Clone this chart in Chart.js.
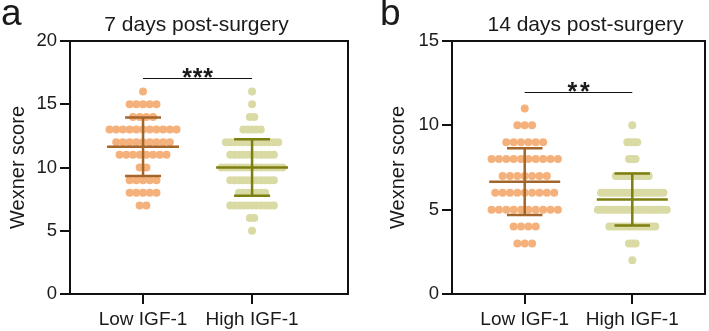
<!DOCTYPE html>
<html>
<head>
    <title>Wexner score</title>
    <script src="https://cdn.jsdelivr.net/npm/chart.js"></script>
    <style>
        body { margin: 0; background: #fff; }
        .wrap { position: relative; width: 709px; height: 331px; }
        canvas { position: absolute; top: 0; }
        #chartA { left: 0; }
        #chartB { left: 354px; }
    </style>
</head>
<body>
    <div class="wrap">
        <canvas id="chartA" width="354" height="331"></canvas>
        <canvas id="chartB" width="355" height="331"></canvas>
    </div>

    <script>
        // Data: how many patients sit at each score
        const categories = ['Low IGF-1', 'High IGF-1'];

        const scores7 = [16, 15, 14, 13, 12, 11, 10, 9, 8, 7, 6, 5];
        const low7Counts = [1, 5, 4, 11, 9, 8, 2, 5, 5, 2, 0, 0];
        const high7Counts = [1, 1, 2, 5, 13, 11, 15, 11, 7, 11, 2, 1];

        const scores14 = [11, 10, 9, 8, 7, 6, 5, 4, 3, 2];
        const low14Counts = [1, 3, 6, 10, 7, 9, 10, 4, 3, 0];
        const high14Counts = [0, 1, 4, 3, 11, 20, 22, 15, 3, 1];

        const yTicks7 = [0, 5, 10, 15, 20];
        const yTicks14 = [0, 5, 10, 15];

        const fontFamily = '"Liberation Sans", Arial, Helvetica, sans-serif';
        const textColor = '#1a1a1a';
        const lowDot = '#F5B17B';
        const lowBar = '#A4652B';
        const highDot = '#D9DAA4';
        const highBar = '#7D7F10';

        // spread the dots of one score row sideways (beeswarm)
        function expand(scores, counts, xIndex, spacing) {
            const pts = [];
            scores.forEach((s, i) => {
                const n = counts[i];
                for (let k = 0; k < n; k++) {
                    pts.push({ x: xIndex + (k - (n - 1) / 2) * spacing, y: s });
                }
            });
            return pts;
        }

        function meanSd(scores, counts) {
            let n = 0, sum = 0;
            scores.forEach((s, i) => { n += counts[i]; sum += s * counts[i]; });
            const mean = sum / n;
            let ss = 0;
            scores.forEach((s, i) => { ss += counts[i] * (s - mean) * (s - mean); });
            return { mean, sd: Math.sqrt(ss / (n - 1)) };
        }

        function errorBar(xIndex, st) {
            const m = st.mean, hi = st.mean + st.sd, lo = st.mean - st.sd;
            return [
                { x: xIndex - 0.33, y: m }, { x: xIndex + 0.33, y: m }, { x: xIndex, y: null },
                { x: xIndex - 0.165, y: hi }, { x: xIndex + 0.165, y: hi }, { x: xIndex, y: null },
                { x: xIndex - 0.165, y: lo }, { x: xIndex + 0.165, y: lo }, { x: xIndex, y: null },
                { x: xIndex, y: lo }, { x: xIndex, y: hi }
            ];
        }

        const decor = {
            id: 'decor',
            afterDraw(chart, args, opts) {
                const { ctx, chartArea: a, scales: { x, y } } = chart;
                ctx.save();
                ctx.strokeStyle = '#111';
                ctx.lineWidth = 2;
                ctx.strokeRect(a.left, a.top, a.right - a.left, a.bottom - a.top);

                // significance bracket
                const x0 = x.getPixelForValue(0), x1 = x.getPixelForValue(1);
                const sy = Math.round(y.getPixelForValue(opts.sigY)) + 0.5;
                ctx.lineWidth = 1;
                ctx.beginPath();
                ctx.moveTo(x0, sy);
                ctx.lineTo(x1, sy);
                ctx.stroke();
                ctx.fillStyle = textColor;
                ctx.textAlign = 'center';
                ctx.textBaseline = 'alphabetic';
                ctx.font = 'bold 25px ' + fontFamily;
                const n = opts.stars.length;
                for (let i = 0; i < n; i++) {
                    const cx = (x0 + x1) / 2 + (i - (n - 1) / 2) * opts.starGap;
                    ctx.fillText(opts.stars[i], cx, sy + 7);
                }

                // title and panel letter
                ctx.font = '21px ' + fontFamily;
                ctx.fillText(opts.title, opts.titleX, 31);
                ctx.textAlign = 'left';
                ctx.font = '37px ' + fontFamily;
                ctx.fillText(opts.letter, opts.letterX, 25);
                ctx.restore();
            }
        };

        function makePanel(id, p) {
            const lowStats = meanSd(p.scores, p.lowCounts);
            const highStats = meanSd(p.scores, p.highCounts);
            return new Chart(document.getElementById(id), {
                type: 'scatter',
                data: {
                    datasets: [
                        { data: errorBar(0, lowStats), showLine: true, spanGaps: false, borderColor: lowBar,
                          borderWidth: 2.5, borderCapStyle: 'butt', pointRadius: 0, order: 0 },
                        { data: errorBar(1, highStats), showLine: true, spanGaps: false, borderColor: highBar,
                          borderWidth: 2.5, borderCapStyle: 'butt', pointRadius: 0, order: 0 },
                        { data: expand(p.scores, p.lowCounts, 0, p.lowGap), backgroundColor: lowDot,
                          borderWidth: 0, pointRadius: 4, order: 1 },
                        { data: expand(p.scores, p.highCounts, 1, p.highGap), backgroundColor: highDot,
                          borderWidth: 0, pointRadius: 4, order: 1 }
                    ]
                },
                options: {
                    responsive: false,
                    animation: false,
                    layout: { padding: { top: 41, right: p.padRight, bottom: 0, left: 0 } },
                    plugins: {
                        legend: { display: false },
                        tooltip: { enabled: false },
                        decor: p.decor
                    },
                    scales: {
                        x: {
                            type: 'linear',
                            min: p.xMin,
                            max: p.xMax,
                            afterBuildTicks: s => { s.ticks = [{ value: 0 }, { value: 1 }]; },
                            afterFit: s => { s.height = 37; },
                            ticks: {
                                callback: v => categories[v],
                                color: textColor,
                                padding: 4,
                                maxRotation: 0,
                                font: { family: fontFamily, size: 19 }
                            },
                            grid: { drawOnChartArea: false, tickLength: 10, color: '#111', lineWidth: 2 },
                            border: { display: true, color: '#111', width: 2 }
                        },
                        y: {
                            min: 0,
                            max: p.yMax,
                            afterBuildTicks: s => { s.ticks = p.yTicks.map(v => ({ value: v })); },
                            afterFit: s => { s.width = p.yWidth; },
                            ticks: {
                                color: textColor,
                                padding: 3,
                                font: { family: fontFamily, size: 18.5 }
                            },
                            grid: { drawOnChartArea: false, tickLength: 10, color: '#111', lineWidth: 2 },
                            border: { display: true, color: '#111', width: 2 },
                            title: {
                                display: true,
                                text: 'Wexner score',
                                color: textColor,
                                padding: { top: p.yTitlePad, bottom: 0 },
                                font: { family: fontFamily, size: 20 }
                            }
                        }
                    }
                },
                plugins: [decor]
            });
        }

        makePanel('chartA', {
            scores: scores7, lowCounts: low7Counts, highCounts: high7Counts,
            lowGap: 0.0615, highGap: 0.040,
            xMin: -0.67, xMax: 1.88, yMax: 20, yTicks: yTicks7,
            padRight: 6, yWidth: 70, yTitlePad: 6,
            decor: { sigY: 17.1, stars: '***', starGap: 10.5, title: '7 days post-surgery', titleX: 196.5, letter: 'a', letterX: 1 }
        });

        makePanel('chartB', {
            scores: scores14, lowCounts: low14Counts, highCounts: high14Counts,
            lowGap: 0.0685, highGap: 0.0305,
            xMin: -0.676, xMax: 1.676, yMax: 15, yTicks: yTicks14,
            padRight: 3, yWidth: 98, yTitlePad: 32,
            decor: { sigY: 12, stars: '**', starGap: 12.5, title: '14 days post-surgery', titleX: 231.5, letter: 'b', letterX: 26 }
        });
    </script>
</body>
</html>
